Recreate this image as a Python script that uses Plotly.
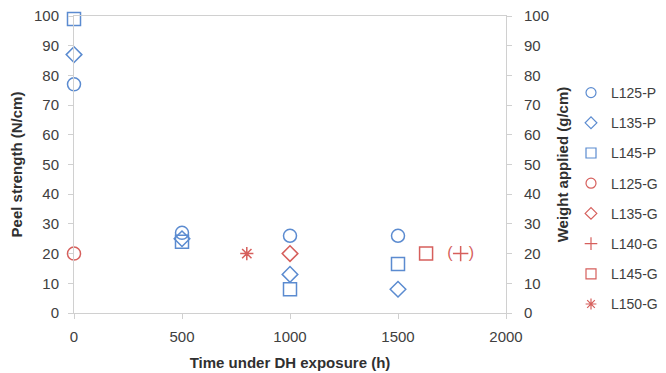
import plotly.graph_objects as go

blue = "#5b8bd0"
red = "#d65f5c"

# Peel strength series (N/cm) vs time (h)
t_p = [0, 500, 1000, 1500]
l125_p = [77, 27, 26, 26]
l135_p = [87, 25, 13, 8]
l145_p = [99, 24, 8, 16.5]

# Weight applied series (g/cm)
l125_g_x = [0]; l125_g = [20]
l135_g_x = [1000]; l135_g = [20]
l140_g_x = [1790]; l140_g = [20]
l145_g_x = [1630]; l145_g = [20]
l150_g_x = [800]; l150_g = [20]

x_ticks = [0, 500, 1000, 1500, 2000]
y_ticks = [0, 10, 20, 30, 40, 50, 60, 70, 80, 90, 100]

font = "Liberation Sans"
fig = go.Figure()

def add(name, x, y, sym, color, yaxis="y", size=12, lsize=10):
    fig.add_trace(go.Scatter(
        x=x, y=y, name=name, mode="markers", yaxis=yaxis, legendgroup=name,
        showlegend=False, cliponaxis=False,
        marker=dict(symbol=sym, size=size, color=color,
                    line=dict(color=color, width=1.5)),
    ))
    # legend entry with smaller symbol
    fig.add_trace(go.Scatter(
        x=[None], y=[None], name=name, mode="markers", yaxis=yaxis, legendgroup=name,
        marker=dict(symbol=sym, size=lsize, color=color,
                    line=dict(color=color, width=1.2)),
    ))

add("L125-P", t_p, l125_p, "circle-open", blue, size=13)
add("L135-P", t_p, l135_p, "diamond-open", blue, size=12, lsize=9)
add("L145-P", t_p, l145_p, "square-open", blue, size=13)
add("L125-G", l125_g_x, l125_g, "circle-open", red, "y2", 13)
add("L135-G", l135_g_x, l135_g, "diamond-open", red, "y2", 12, lsize=9)
add("L140-G", l140_g_x, l140_g, "cross-thin-open", red, "y2", 11, lsize=9)
add("L145-G", l145_g_x, l145_g, "square-open", red, "y2", 13)
add("L150-G", l150_g_x, l150_g, "asterisk-open", red, "y2", 11, lsize=9)

# parentheses around the L140-G point
fig.add_trace(go.Scatter(
    x=[l140_g_x[0] - 50, l140_g_x[0] + 50], y=[l140_g[0], l140_g[0]], yaxis="y2",
    mode="text", text=["(", ")"], textfont=dict(color=red, size=16, family=font),
    showlegend=False, hoverinfo="skip", cliponaxis=False))

axis_common = dict(showline=True, linecolor="#d0d0d0", linewidth=1, ticks="outside",
                   tickcolor="#d0d0d0", ticklen=5, showgrid=False, zeroline=False,
                   automargin=False, ticklabeloverflow="allow",
                   tickfont=dict(size=15, color="#404040", family=font))

title_font = dict(size=15, color="#303030", family=font)

# page body has an 8px margin, so the figure is offset by 8px
fig.update_layout(
    width=658, height=365,
    margin=dict(l=66, r=160, t=8, b=60),
    paper_bgcolor="white", plot_bgcolor="white",
    showlegend=True,
    xaxis=dict(range=[0, 2000], tickvals=x_ticks, mirror=True, ticklabelstandoff=5,
               title=dict(text="<b>Time under DH exposure (h)</b>", standoff=13,
                          font=title_font),
               **axis_common),
    yaxis=dict(range=[0, 100], tickvals=y_ticks, ticklabelstandoff=6,
               title=dict(text="<b>Peel strength (N/cm)</b>", standoff=8,
                          font=title_font),
               **axis_common),
    yaxis2=dict(range=[0, 100], tickvals=y_ticks, overlaying="y", side="right",
                ticklabelstandoff=9,
                title=dict(text="<b>Weight applied (g/cm)</b>", standoff=26,
                           font=title_font),
                **axis_common),
    legend=dict(xref="container", yref="container",
                x=563 / 658, y=1 - 69 / 365, xanchor="left", yanchor="top",
                maxheight=300,
                font=dict(size=14, color="#404040", family=font),
                tracegroupgap=9, itemwidth=30, bgcolor="rgba(0,0,0,0)"),
)

fig.write_html("out.html")
